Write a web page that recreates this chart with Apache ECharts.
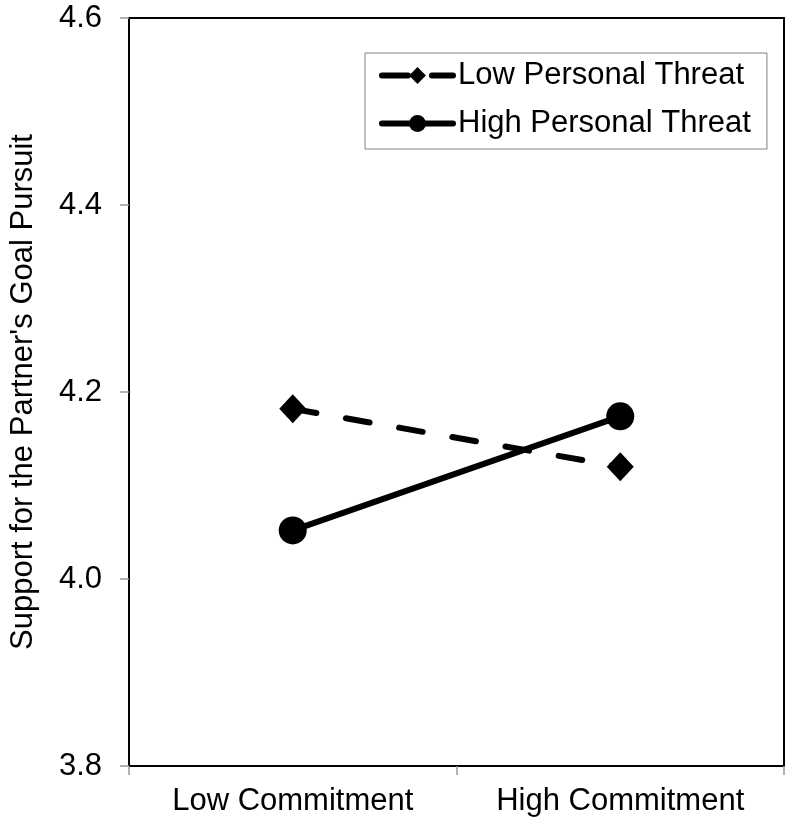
<!DOCTYPE html>
<html>
<head>
<meta charset="utf-8">
<script src="https://cdn.jsdelivr.net/npm/echarts@6/dist/echarts.min.js"></script>
<style>
html,body{margin:0;padding:0;background:#fff;}
#chart{width:786px;height:826px;}
</style>
</head>
<body>
<div id="chart"></div>
<script>
const categories = ['Low Commitment', 'High Commitment'];
const lowThreat = [4.182, 4.120];
const highThreat = [4.052, 4.174];
const seriesNames = ['Low Personal Threat', 'High Personal Threat'];
const yAxisTitle = "Support for the Partner's Goal Pursuit";

const FONT = "'Liberation Sans', Arial, sans-serif";
const chart = echarts.init(document.getElementById('chart'));
chart.setOption({
  backgroundColor: '#fff',
  animation: false,
  grid: {
    left: 127, right: 2, top: 18, bottom: 60,
    show: true, borderColor: '#000', borderWidth: 2, backgroundColor: 'transparent'
  },
  legend: {
    orient: 'vertical',
    left: 365, top: 53,
    padding: [7, 16, 10, 14],
    itemGap: 17,
    itemWidth: 71,
    itemHeight: 21,
    borderColor: '#808080',
    borderWidth: 1,
    backgroundColor: '#fff',
    lineStyle: { width: 6, cap: 'round' },
    textStyle: { fontFamily: FONT, fontSize: 31, color: '#000' },
    data: [
      { name: seriesNames[0], lineStyle: { type: [26, 24] } },
      { name: seriesNames[1] }
    ]
  },
  xAxis: {
    type: 'category',
    data: categories,
    boundaryGap: true,
    axisLine: { show: true, lineStyle: { color: '#000', width: 2 } },
    axisTick: { show: true, interval: 0, alignWithLabel: false, length: 9, lineStyle: { color: '#999', width: 1.5 } },
    axisLabel: { fontFamily: FONT, fontSize: 31, color: '#000', margin: 20 },
    splitLine: { show: false }
  },
  yAxis: {
    type: 'value',
    min: 3.8, max: 4.6, interval: 0.2,
    name: yAxisTitle,
    nameLocation: 'middle',
    nameGap: 90,
    nameRotate: 90,
    nameTextStyle: { fontFamily: FONT, fontSize: 31, color: '#000' },
    axisLine: { show: true, lineStyle: { color: '#000', width: 2 } },
    axisTick: { show: true, length: 9, lineStyle: { color: '#999', width: 1.5 } },
    axisLabel: { fontFamily: FONT, fontSize: 31, color: '#000', margin: 27, formatter: v => v.toFixed(1) },
    splitLine: { show: false }
  },
  series: [
    {
      name: seriesNames[0],
      type: 'line',
      data: lowThreat,
      symbol: 'diamond',
      symbolSize: [27, 29],
      itemStyle: { color: '#000' },
      lineStyle: { color: '#000', width: 6, type: [24, 30], cap: 'round' },
      z: 2
    },
    {
      name: seriesNames[1],
      type: 'line',
      data: highThreat,
      symbol: 'circle',
      symbolSize: 28,
      itemStyle: { color: '#000' },
      lineStyle: { color: '#000', width: 6, type: 'solid' },
      z: 3
    }
  ]
});
</script>
</body>
</html>
